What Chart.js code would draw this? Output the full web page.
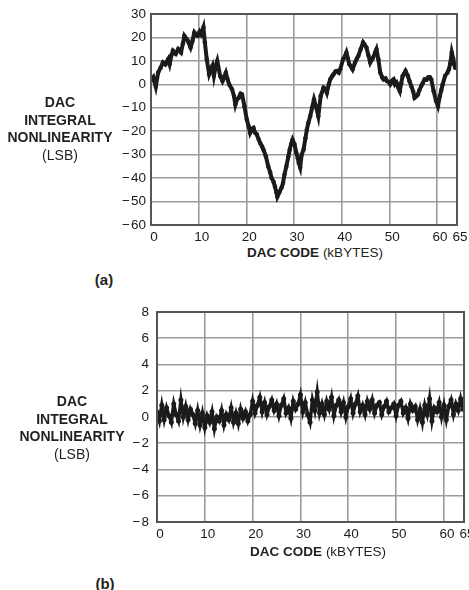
<!DOCTYPE html>
<html>
<head>
<meta charset="utf-8">
<script src="https://cdn.jsdelivr.net/npm/chart.js@4.4.1/dist/chart.umd.min.js"></script>
<style>
  html, body { margin: 0; padding: 0; background: #fff; overflow: hidden; }
  body { width: 469px; height: 590px; position: relative; font-family: "Liberation Sans", Arial, sans-serif; color: #231f20; }
  .cv { position: absolute; }
  .ylab { position: absolute; width: 120px; text-align: center; font-size: 14px; line-height: 17.5px; }
  .ylab b { font-weight: bold; }
  .xlab { position: absolute; width: 220px; text-align: center; font-size: 13.5px; line-height: 16px; white-space: nowrap; }
  .tag { position: absolute; width: 40px; text-align: center; font-size: 15px; font-weight: bold; line-height: 18px; }
</style>
</head>
<body>
<div class="cv" style="left:100px;top:0;width:369px;height:245px;"><canvas id="chartA"></canvas></div>
<div class="cv" style="left:100px;top:300px;width:369px;height:245px;"><canvas id="chartB"></canvas></div>

<div class="ylab" style="left:0;top:94px;"><b>DAC</b><br><b>INTEGRAL</b><br><b>NONLINEARITY</b><br>(LSB)</div>
<div class="ylab" style="left:12px;top:393px;"><b>DAC</b><br><b>INTEGRAL</b><br><b>NONLINEARITY</b><br>(LSB)</div>
<div class="xlab" style="left:205px;top:245px;"><b>DAC CODE</b> (kBYTES)</div>
<div class="xlab" style="left:208px;top:544px;"><b>DAC CODE</b> (kBYTES)</div>
<div class="tag" style="left:84px;top:271px;">(a)</div>
<div class="tag" style="left:85px;top:575px;">(b)</div>

<script>
// DAC code axis (kbytes) – last tick sits on the right frame and reads "65"
const codeTicks = [0, 10, 20, 30, 40, 50, 60, 64.2];

// (a) integral nonlinearity, LSB
const codesA = [
  0, 0.5, 1.0, 1.5, 2.0, 2.5, 3.0, 3.6, 3.9, 4.3,
  4.6, 5.2, 5.7, 6.3, 6.7, 7.0, 7.4, 7.7, 8.3, 8.7,
  9.1, 9.5, 9.8, 10.2, 10.5, 11.0, 11.3, 11.7, 12.2, 12.6,
  12.9, 13.2, 13.6, 13.9, 14.5, 15.0, 15.4, 15.7, 16.0, 16.4,
  17.0, 17.4, 17.7, 18.0, 18.4, 18.8, 19.1, 19.6, 20.1, 20.5,
  20.8, 21.2, 21.5, 21.8, 22.2, 22.6, 22.9, 23.3, 23.6, 24.1,
  24.6, 25.0, 25.3, 25.7, 26.0, 26.3, 26.5, 26.8, 27.0, 27.4,
  27.7, 28.0, 28.4, 28.8, 29.1, 29.4, 29.7, 30.1, 30.5, 30.8,
  31.0, 31.3, 31.6, 32.0, 32.4, 32.7, 33.0, 33.4, 33.8, 34.2,
  34.6, 35.1, 35.6, 36.2, 36.6, 36.9, 37.3, 37.6, 38.0, 38.3,
  38.7, 39.0, 39.4, 39.7, 40.3, 40.7, 41.0, 41.3, 41.6, 42.0,
  42.3, 42.8, 43.2, 43.5, 44.0, 44.5, 44.8, 45.2, 45.6, 46.0,
  46.3, 46.6, 47.0, 47.3, 47.7, 48.1, 48.5, 48.8, 49.2, 49.5,
  49.9, 50.2, 50.6, 50.9, 51.2, 51.5, 51.9, 52.2, 52.5, 52.8,
  53.1, 53.4, 53.9, 54.2, 54.6, 55.0, 55.3, 55.7, 56.0, 56.3,
  56.7, 57.0, 57.4, 57.8, 58.1, 58.5, 58.8, 59.3, 59.8, 60.2,
  60.6, 60.9, 61.2, 61.7, 62.2, 62.5, 62.8, 63.1, 63.4, 63.6,
  63.8
];
const inlA = [
  1.5, 3.0, -1.0, 5.0, 7.0, 9.3, 8.5, 10.7, 8.6, 12.5,
  14.3, 13.0, 15.0, 13.6, 17.5, 20.7, 19.5, 18.6, 15.7, 18.5,
  22.1, 21.0, 20.7, 22.5, 21.4, 24.3, 17.9, 10.7, 4.3, 6.5,
  7.9, 3.6, 8.0, 10.0, 3.6, 1.4, 3.5, 5.0, 2.5, 0.0,
  -2.1, -5.0, -8.6, -6.5, -5.7, -4.0, -4.3, -9.3, -15.0, -18.0,
  -20.7, -19.0, -18.6, -20.5, -21.4, -23.5, -25.0, -26.5, -27.9, -30.7,
  -35.0, -37.5, -40.0, -41.5, -43.6, -46.0, -47.9, -46.5, -45.7, -44.0,
  -42.1, -38.5, -35.0, -31.0, -27.9, -25.5, -23.6, -25.5, -29.3, -31.5,
  -33.6, -35.5, -30.0, -27.9, -23.0, -19.3, -16.5, -13.6, -10.0, -6.4,
  -9.3, -13.6, -5.0, -1.4, -2.0, -3.6, 0.0, 2.1, 3.5, 4.3,
  5.5, 5.7, 5.0, 6.4, 10.7, 12.0, 13.6, 11.0, 8.6, 7.5,
  6.4, 9.3, 11.0, 12.1, 15.0, 17.9, 17.0, 15.7, 12.5, 9.3,
  10.5, 11.4, 13.5, 15.0, 10.7, 5.0, 3.0, 2.1, 2.5, 1.4,
  1.0, 0.0, 1.5, 2.1, 0.0, 0.7, -1.5, -2.9, 0.5, 3.6,
  4.5, 5.7, 3.6, 1.5, -0.7, -3.0, -5.7, -5.0, -4.3, -2.5,
  -0.7, 0.5, 2.1, 2.0, 2.9, 3.0, 2.1, -2.9, -7.1, -9.3,
  -5.0, -2.5, 0.0, 3.6, 5.0, 6.4, 9.0, 13.6, 11.0, 8.6,
  7.1
];

// (b) integral nonlinearity after correction, LSB, one reading every 0.5 kbyte
const codeStepB = 0.5;
const inlB = [
  0.4, -0.3, 0.9, -0.2, 0.7, 0.1, -0.4, 1.0, 0.2, -0.3,
  1.3, 0.0, 0.8, -0.2, 0.6, 0.2, -0.5, 0.5, -0.6, 0.3,
  -0.8, 0.1, -0.4, 0.4, -0.9, 0.0, -0.3, 0.5, -0.6, 0.2,
  -0.2, 0.7, -0.4, 0.3, -0.5, 0.6, -0.1, 0.4, -0.3, 0.2,
  1.2, 0.3, 0.9, 1.5, 0.4, 1.1, 0.2, 0.8, 1.3, 0.5,
  1.0, 0.1, 0.9, 1.4, 0.3, 0.7, -0.1, 1.2, 0.6, 1.0,
  1.7, 0.4, 1.1, 0.2, -0.4, 1.3, 0.5, 1.9, 0.3, 1.0,
  0.2, 1.2, 0.6, 1.5, 0.1, 0.9, 1.3, 0.4, 1.1, 0.0,
  0.8, 1.4, 0.3, 1.0, 1.6, 0.4, 0.9, 0.2, 1.2, 0.6,
  1.3, 0.3, 0.9, 1.1, 0.2, 0.8, 1.2, 0.4, 0.7, 1.0,
  0.1, 0.9, 1.2, 0.3, 0.7, -0.1, 1.0, 0.5, 0.8, -0.2,
  0.6, -0.4, 0.9, 0.2, 1.4, -0.3, 0.7, 0.4, 1.1, 0.0,
  0.9, -0.2, 0.8, 1.3, 0.2, 1.0, 0.5, 1.4, 0.6
];

const ink = '#1c1a1b';
const gridGrey = '#9c9c9c';
const frameGrey = '#555555';
const tickFont = { family: '"Liberation Sans", Arial, sans-serif', size: 13.5 };

// plain frame around the plot area
const framePlugin = {
  id: 'frame',
  afterDatasetsDraw(chart) {
    const a = chart.chartArea, c = chart.ctx;
    c.save();
    c.strokeStyle = frameGrey;
    c.lineWidth = 2;
    c.strokeRect(a.left, a.top, a.right - a.left, a.bottom - a.top);
    c.restore();
  }
};

function minusLabel(v) {
  return v < 0 ? '\u2212\u200a' + Math.abs(v) : String(v);
}

function makeChart(id, points, yMin, yMax, yStep, opts) {
  return new Chart(document.getElementById(id), {
    type: 'line',
    data: {
      datasets: [{
        data: points,
        borderColor: ink,
        backgroundColor: ink,
        borderWidth: opts.lineWidth,
        pointRadius: opts.pointRadius,
        pointBorderWidth: 0,
        tension: 0
      }]
    },
    options: {
      responsive: true,
      maintainAspectRatio: false,
      animation: false,
      events: [],
      layout: { padding: opts.padding },
      plugins: { legend: { display: false }, tooltip: { enabled: false } },
      scales: {
        x: {
          type: 'linear',
          min: 0,
          max: 64.2,
          afterBuildTicks: s => { s.ticks = codeTicks.map(v => ({ value: v })); },
          afterFit: s => { s.height = opts.xHeight; s.paddingLeft = 0; s.paddingRight = 0; },
          grid: { color: gridGrey, lineWidth: 1.6, drawTicks: false },
          border: { display: false },
          ticks: {
            font: tickFont,
            color: ink,
            padding: 4,
            labelOffset: 3,
            maxRotation: 0,
            autoSkip: false,
            callback: v => (v > 64 ? '65' : String(v))
          }
        },
        y: {
          min: yMin,
          max: yMax,
          afterFit: s => { s.width = opts.yWidth; s.paddingTop = 0; s.paddingBottom = 0; },
          grid: { color: gridGrey, lineWidth: 1.6, drawTicks: false },
          border: { display: false },
          ticks: {
            stepSize: yStep,
            font: tickFont,
            color: ink,
            padding: opts.yPad,
            callback: v => minusLabel(v)
          }
        }
      }
    },
    plugins: [framePlugin]
  });
}

const ptsA = codesA.map((c, i) => ({ x: c, y: inlA[i] }));
const ptsB = inlB.map((v, i) => ({ x: i * codeStepB, y: v }));

makeChart('chartA', ptsA, -60, 30, 10, {
  lineWidth: 4, pointRadius: 2.2,
  padding: { top: 14, right: 12, left: 0, bottom: 0 },
  xHeight: 20, yWidth: 51, yPad: 5
});

makeChart('chartB', ptsB, -8, 8, 2, {
  lineWidth: 3.4, pointRadius: 2.5,
  padding: { top: 12, right: 5, left: 0, bottom: 0 },
  xHeight: 23, yWidth: 57, yPad: 8
});
</script>
</body>
</html>
